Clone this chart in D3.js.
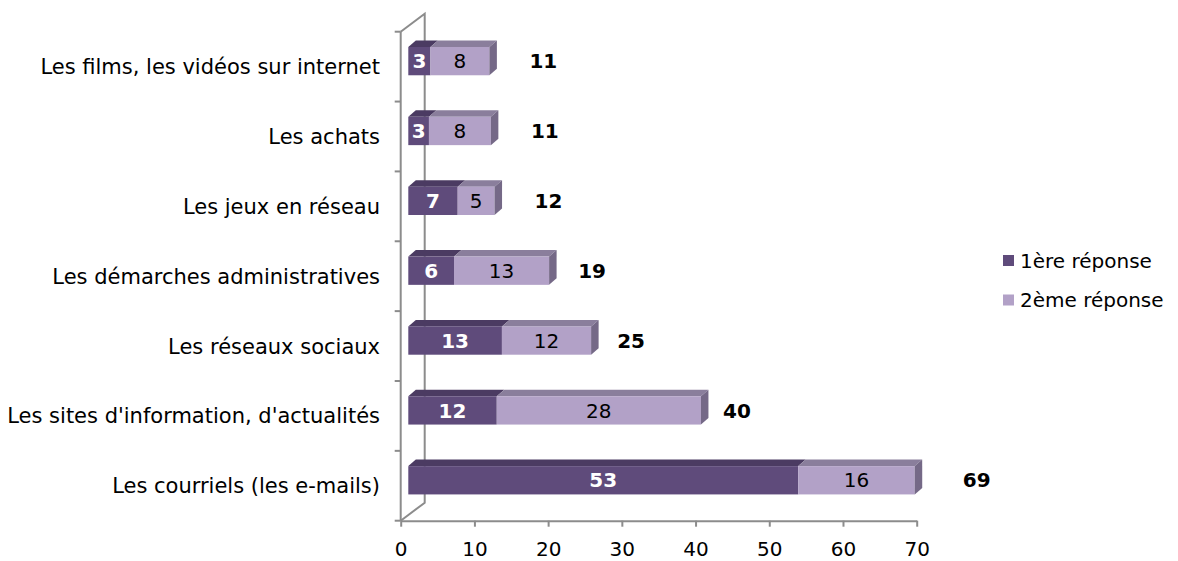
<!DOCTYPE html>
<html lang="fr">
<head>
<meta charset="UTF-8">
<title>Usages d'internet</title>
<script src="https://cdn.jsdelivr.net/npm/d3@7"></script>
<style>
    body { margin: 0; background: #fff; }
    svg text { font-family: "DejaVu Sans", Verdana, sans-serif; }
</style>
</head>
<body>
<div id="chart"></div>
<script>
    // Data (labels are rounded)
    const categories = [
        "Les films, les vidéos sur internet",
        "Les achats",
        "Les jeux en réseau",
        "Les démarches administratives",
        "Les réseaux sociaux",
        "Les sites d'information, d'actualités",
        "Les courriels (les e-mails)"
    ];
    const premiere = [3.0, 2.8, 6.7, 6.2, 12.7, 12.0, 52.9];
    const deuxieme = [8.0, 8.4, 5.0, 12.9, 12.1, 27.7, 15.8];
    const seriesNames = ["1ère réponse", "2ème réponse"];
    const xTicks = [0, 10, 20, 30, 40, 50, 60, 70];

    // layout
    const W = 1178, H = 561;
    const colors = {
        front: ["#5f4b7b", "#b2a1c7"],
        top: ["#4b3b62", "#8a7e9c"],
        side: "#756987",
        axis: "#8c8c8c"
    };
    const wall = { dx: 24, dy: -18 };      // depth of the back wall
    const barOff = { dx: 7.6, dy: -5.5 };  // front face of bars vs front plane
    const barDepth = { dx: 7.5, dy: -6.5 };
    const barH = 28.3;
    // hand-placed total labels, gap after bar end
    const totalLabelGap = [54, 54, 54, 43, 40, 36, 62];

    const svg = d3.select("#chart").append("svg")
        .attr("width", W).attr("height", H);

    const x = d3.scaleLinear().domain([0, 70]).range([400.7, 916.7]);
    const y = d3.scaleBand().domain(categories).range([31.7, 520.7]);

    const rows = categories.map((c, i) => ({
        cat: c,
        segs: [[0, premiere[i]], [premiere[i], premiere[i] + deuxieme[i]]],
        total: premiere[i] + deuxieme[i],
        gap: totalLabelGap[i]
    }));

    // walls
    const x0 = x(0), yTop = y.range()[0], yBot = y.range()[1];
    const g = svg.append("g")
        .attr("fill", "none")
        .attr("stroke", colors.axis)
        .attr("stroke-width", 2);
    g.append("path")
        .attr("d", `M${x0},${yTop}L${x0 + wall.dx},${yTop + wall.dy}L${x0 + wall.dx},${yBot + wall.dy}L${x0},${yBot}`);
    g.append("line")
        .attr("x1", x0).attr("x2", x0)
        .attr("y1", yTop).attr("y2", yBot);
    // category boundary ticks
    const bounds = categories.map(c => y(c)).concat([yBot]);
    g.selectAll(".ctick").data(bounds).enter().append("line")
        .attr("x1", x0 - 6).attr("x2", x0)
        .attr("y1", d => d).attr("y2", d => d);

    // value axis
    const xAxis = svg.append("g")
        .attr("transform", `translate(0,${yBot})`)
        .call(d3.axisBottom(x).tickValues(xTicks).tickSize(6).tickSizeOuter(0).tickPadding(15));
    xAxis.selectAll("path, line")
        .attr("stroke", colors.axis)
        .attr("stroke-width", 2);
    xAxis.selectAll("text")
        .attr("font-size", 20)
        .attr("fill", "#000")
        .style("font-family", "DejaVu Sans, Verdana, sans-serif");

    // category labels
    svg.append("g").selectAll("text").data(categories).enter().append("text")
        .attr("x", 380)
        .attr("y", d => y(d) + y.bandwidth() / 2)
        .attr("dy", "0.36em")
        .attr("text-anchor", "end")
        .attr("font-size", 21)
        .attr("fill", "#000")
        .text(d => d);

    // 3D bars
    const bars = svg.append("g").selectAll("g").data(rows).enter().append("g");

    bars.each(function (r) {
        const gr = d3.select(this);
        const fy = y(r.cat) + y.bandwidth() / 2 + barOff.dy - barH / 2;
        r.segs.forEach((s, k) => {
            const a = x(s[0]) + barOff.dx, b = x(s[1]) + barOff.dx;
            gr.append("path")
                .attr("fill", colors.top[k])
                .attr("d", `M${a},${fy}L${a + barDepth.dx},${fy + barDepth.dy}L${b + barDepth.dx},${fy + barDepth.dy}L${b},${fy}Z`);
            gr.append("rect")
                .attr("x", a).attr("y", fy)
                .attr("width", b - a).attr("height", barH)
                .attr("fill", colors.front[k]);
            if (k === r.segs.length - 1) {
                gr.append("path")
                    .attr("fill", colors.side)
                    .attr("d", `M${b},${fy}L${b + barDepth.dx},${fy + barDepth.dy}L${b + barDepth.dx},${fy + barH + barDepth.dy}L${b},${fy + barH}Z`);
            }
            gr.append("text")
                .attr("x", (a + b) / 2)
                .attr("y", fy + barH / 2)
                .attr("dy", "0.36em")
                .attr("text-anchor", "middle")
                .attr("font-size", 20)
                .attr("font-weight", k === 0 ? "bold" : "normal")
                .attr("fill", k === 0 ? "#fff" : "#000")
                .text(d3.format(".0f")(s[1] - s[0]));
        });
        // total label
        gr.append("text")
            .attr("x", x(r.total) + barOff.dx + r.gap)
            .attr("y", fy + barH / 2)
            .attr("dy", "0.36em")
            .attr("text-anchor", "middle")
            .attr("font-size", 20)
            .attr("font-weight", "bold")
            .attr("fill", "#000")
            .text(d3.format(".0f")(r.total));
    });

    // legend
    const legend = svg.append("g").selectAll("g").data(seriesNames).enter().append("g")
        .attr("transform", (d, i) => `translate(1003,${260.5 + i * 39.5})`);
    legend.append("rect")
        .attr("x", 0).attr("y", -5.5)
        .attr("width", 11).attr("height", 11)
        .attr("fill", (d, i) => colors.front[i]);
    legend.append("text")
        .attr("x", 17)
        .attr("dy", "0.36em")
        .attr("font-size", 20)
        .attr("fill", "#000")
        .text(d => d);
</script>
</body>
</html>
